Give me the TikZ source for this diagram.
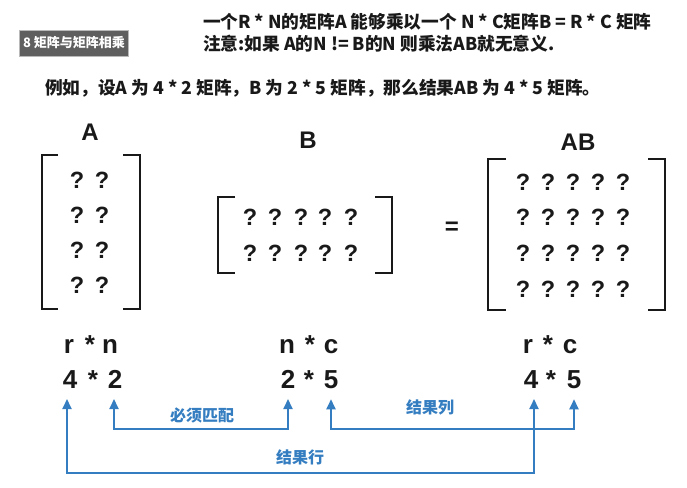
\documentclass[tikz,border=0pt]{standalone}
\usepackage{fontspec}
\setmainfont{Liberation Sans}
\newfontfamily\cjk{Noto Sans CJK SC}
\usetikzlibrary{arrows.meta}
\definecolor{linkblue}{RGB}{52,125,192}
\definecolor{tagbg}{RGB}{95,95,95}
\definecolor{ink}{RGB}{25,25,25}

\begin{document}
\begin{tikzpicture}[x=1pt, y=-1pt, line width=2pt, ink,
  qm/.style={font=\bfseries\fontsize{23.5}{23.5}\selectfont, inner sep=0pt},
  mname/.style={font=\bfseries\fontsize{24}{24}\selectfont, inner sep=0pt},
  dims/.style={font=\bfseries\fontsize{26}{26}\selectfont, anchor=base, inner sep=0pt},
  title/.style={font=\cjk\bfseries\fontsize{17.7}{17.7}\selectfont, anchor=west, inner sep=0pt},
  note/.style={font=\cjk\bfseries\fontsize{16}{16}\selectfont, text=linkblue, inner sep=0pt},
  link/.style={draw=linkblue, line width=2pt, {Triangle[width=9pt,length=10pt]}-{Triangle[width=9pt,length=10pt]}}]
\useasboundingbox (0,0) rectangle (687,487);
%Header
\node[fill=tagbg, draw=gray!55, line width=0.8pt, text=white, font=\cjk\bfseries\fontsize{13}{13}\selectfont, minimum width=109pt, minimum height=26pt, inner sep=0pt] (tag) at (74,43) {8 矩阵与矩阵相乘};
\node[title] (line1) at (202,22) {一个R * N的矩阵A 能够乘以一个 N * C矩阵B = R * C 矩阵};
\node[title] (line2) at (202,44) {注意:如果 A的N != B的N 则乘法AB就无意义.};
\node[title] (line3) at (44,88) {例如，设A 为 4 * 2 矩阵，B 为 2 * 5 矩阵，那么结果AB 为 4 * 5 矩阵。};
%Matrices
\node[mname] (nameA) at (90,132) {A};
\node[mname] (nameB) at (308,140) {B};
\node[mname] (nameAB) at (578,142) {AB};
\node[mname] (eq) at (452,228) {=};
\foreach \y [count=\i] in {180,215,250,285}
  \foreach \x [count=\j] in {77,102}
    \node[qm] (a\i\j) at (\x,\y) {?};
\foreach \y [count=\i] in {217,253}
  \foreach \x [count=\j] in {250,275,301,325,351}
    \node[qm] (b\i\j) at (\x,\y) {?};
\foreach \y [count=\i] in {182,217,253,289}
  \foreach \x [count=\j] in {523,548,573,598,623}
    \node[qm] (ab\i\j) at (\x,\y) {?};
\draw (58,155) -- (42,155) -- (42,309) -- (58,309);
\draw (123,155) -- (140,155) -- (140,309) -- (123,309);
\draw (235,197) -- (218,197) -- (218,273) -- (235,273);
\draw (375,197) -- (392,197) -- (392,273) -- (375,273);
\draw (506,159) -- (488,159) -- (488,310) -- (506,310);
\draw (648,159) -- (665,159) -- (665,310) -- (648,310);
%Sizes
\node[dims] (ar) at (69,353) {r};
\node[dims] (am) at (90,353) {*};
\node[dims] (an) at (110,353) {n};
\node[dims] (bn) at (287,353) {n};
\node[dims] (bm) at (310,353) {*};
\node[dims] (bc) at (331,353) {c};
\node[dims] (cr) at (528,353) {r};
\node[dims] (cm) at (548,353) {*};
\node[dims] (cc) at (570,353) {c};
\node[dims] (a4) at (70,388) {4};
\node[dims] (ax) at (93,388) {*};
\node[dims] (a2) at (115,388) {2};
\node[dims] (b2) at (288,388) {2};
\node[dims] (bx) at (309,388) {*};
\node[dims] (b5) at (331,388) {5};
\node[dims] (c4) at (531,388) {4};
\node[dims] (cx) at (551,388) {*};
\node[dims] (c5) at (574,388) {5};
%Links
\coordinate (railmid) at (0,429);
\coordinate (raillow) at (0,473);
\draw[link] ([xshift=-1pt,yshift=-10pt]a2.south) |- (b2 |- railmid) -- ([yshift=-10pt]b2.south);
\draw[link] ([yshift=-10pt]b5.south) |- (c5 |- railmid) -- ([yshift=-10pt]c5.south);
\draw[link] ([xshift=-3pt,yshift=-10pt]a4.south) |- ([xshift=3pt]c4 |- raillow) -- ([xshift=3pt,yshift=-10pt]c4.south);
\node[note] (match) at (202,415) {必须匹配};
\node[note] (rescol) at (430,407) {结果列};
\node[note] (resrow) at (300,457) {结果行};
\end{tikzpicture}
\end{document}
